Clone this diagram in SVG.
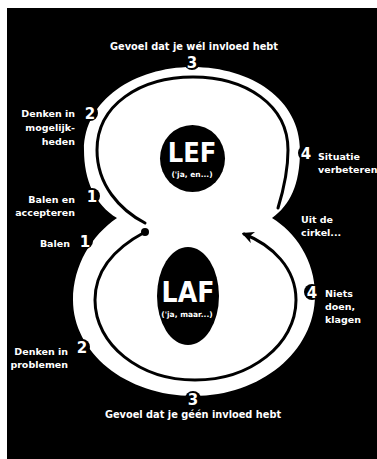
<svg xmlns="http://www.w3.org/2000/svg" width="377" height="459" viewBox="0 0 377 459">
<defs>
<style>
.lbl{font-family:"DejaVu Sans",sans-serif;font-weight:bold;font-size:9.5px;fill:#fff}
.ttl{font-family:"DejaVu Sans",sans-serif;font-weight:bold;font-size:9.8px;fill:#fff}
.num{font-family:"DejaVu Sans",sans-serif;font-weight:bold;font-size:15px;fill:#fff;text-anchor:middle}
.big{font-family:"DejaVu Sans Condensed","DejaVu Sans",sans-serif;font-weight:bold;fill:#fff;text-anchor:middle}
.sub{font-family:"DejaVu Sans",sans-serif;font-weight:bold;font-size:7.5px;fill:#fff;text-anchor:middle}
.line{fill:none;stroke:#000;stroke-width:3;stroke-linecap:round}
.badge{fill:#000}
</style>
<marker id="arr" viewBox="0 0 10 10" refX="8" refY="5" markerWidth="4" markerHeight="4" orient="auto" markerUnits="strokeWidth">
<path d="M0,0 L10,5 L0,10 L3,5 Z" fill="#000"/>
</marker>
</defs>
<rect x="0" y="0" width="377" height="459" fill="#fff"/>
<rect x="7" y="8" width="370" height="451" fill="#000"/>

<g id="eight">
<path fill="#fff" d="M117,218 C95,205 84,180 84,150 C84,100 135,67 192,67 C252,67 300,100 300,150 C300,185 290,205 272,218 C295,232 315,260 315,295 C315,352 260,396 194,396 C125,396 73,352 73,300 C73,265 92,235 117,218 Z"/>
</g>

<g id="lef">
<ellipse cx="192.5" cy="158.5" rx="32.5" ry="33.5" fill="#000"/>
<text class="big" x="192" y="162" font-size="27">LEF</text>
<text class="sub" x="192" y="177">('ja, en...)</text>
</g>

<g id="laf">
<ellipse cx="188" cy="296" rx="31" ry="49" fill="#000"/>
<text class="big" x="188" y="302" font-size="28">LAF</text>
<text class="sub" x="187" y="317">('ja, maar...)</text>
</g>

<g id="connectors">
<path class="line" d="M145,223 C120,210 97,185 97,150 C97,105 140,77 193,77 C246,77 288,105 288,150 C288,175 282,195 278,208"/>
<path class="line" d="M145,232 C115,248 95,270 95,300 C95,345 140,380 195,380 C250,380 296,345 296,300 C296,268 272,245 244,234" marker-end="url(#arr)"/>
<circle cx="145" cy="232" r="4" fill="#000"/>
</g>

<g id="badges">
<g id="n3top"><circle class="badge" cx="192" cy="62" r="8"/><text class="num" x="192" y="67.5">3</text></g>
<g id="n2top"><circle class="badge" cx="90" cy="113" r="8"/><text class="num" x="90" y="118.5">2</text></g>
<g id="n1top"><circle class="badge" cx="92" cy="196" r="8"/><text class="num" x="92" y="201.5">1</text></g>
<g id="n1bot"><circle class="badge" cx="85" cy="241" r="8"/><text class="num" x="85" y="246.5">1</text></g>
<g id="n4top"><circle class="badge" cx="306" cy="153" r="8"/><text class="num" x="306" y="158.5">4</text></g>
<g id="n4bot"><circle class="badge" cx="312" cy="292" r="8"/><text class="num" x="312" y="297.5">4</text></g>
<g id="n2bot"><circle class="badge" cx="82" cy="347" r="8"/><text class="num" x="82" y="352.5">2</text></g>
<g id="n3bot"><circle class="badge" cx="193" cy="399" r="8"/><text class="num" x="193" y="404.5">3</text></g>
</g>

<g id="labels">
<text class="ttl" x="194" y="50" text-anchor="middle">Gevoel dat je wél invloed hebt</text>
<text class="ttl" x="193" y="418" text-anchor="middle">Gevoel dat je géén invloed hebt</text>
<text class="lbl" text-anchor="end"><tspan x="75" y="117">Denken in</tspan><tspan x="75" y="131">mogelijk-</tspan><tspan x="75" y="145">heden</tspan></text>
<text class="lbl" text-anchor="end"><tspan x="75" y="203">Balen en</tspan><tspan x="75" y="216">accepteren</tspan></text>
<text class="lbl" x="70" y="247" text-anchor="end">Balen</text>
<text class="lbl" text-anchor="end"><tspan x="68" y="355">Denken in</tspan><tspan x="68" y="368">problemen</tspan></text>
<text class="lbl"><tspan x="318" y="160">Situatie</tspan><tspan x="318" y="173">verbeteren</tspan></text>
<text class="lbl"><tspan x="301" y="223">Uit de</tspan><tspan x="301" y="236">cirkel...</tspan></text>
<text class="lbl"><tspan x="325" y="297">Niets</tspan><tspan x="325" y="310">doen,</tspan><tspan x="325" y="323">klagen</tspan></text>
</g>
</svg>
